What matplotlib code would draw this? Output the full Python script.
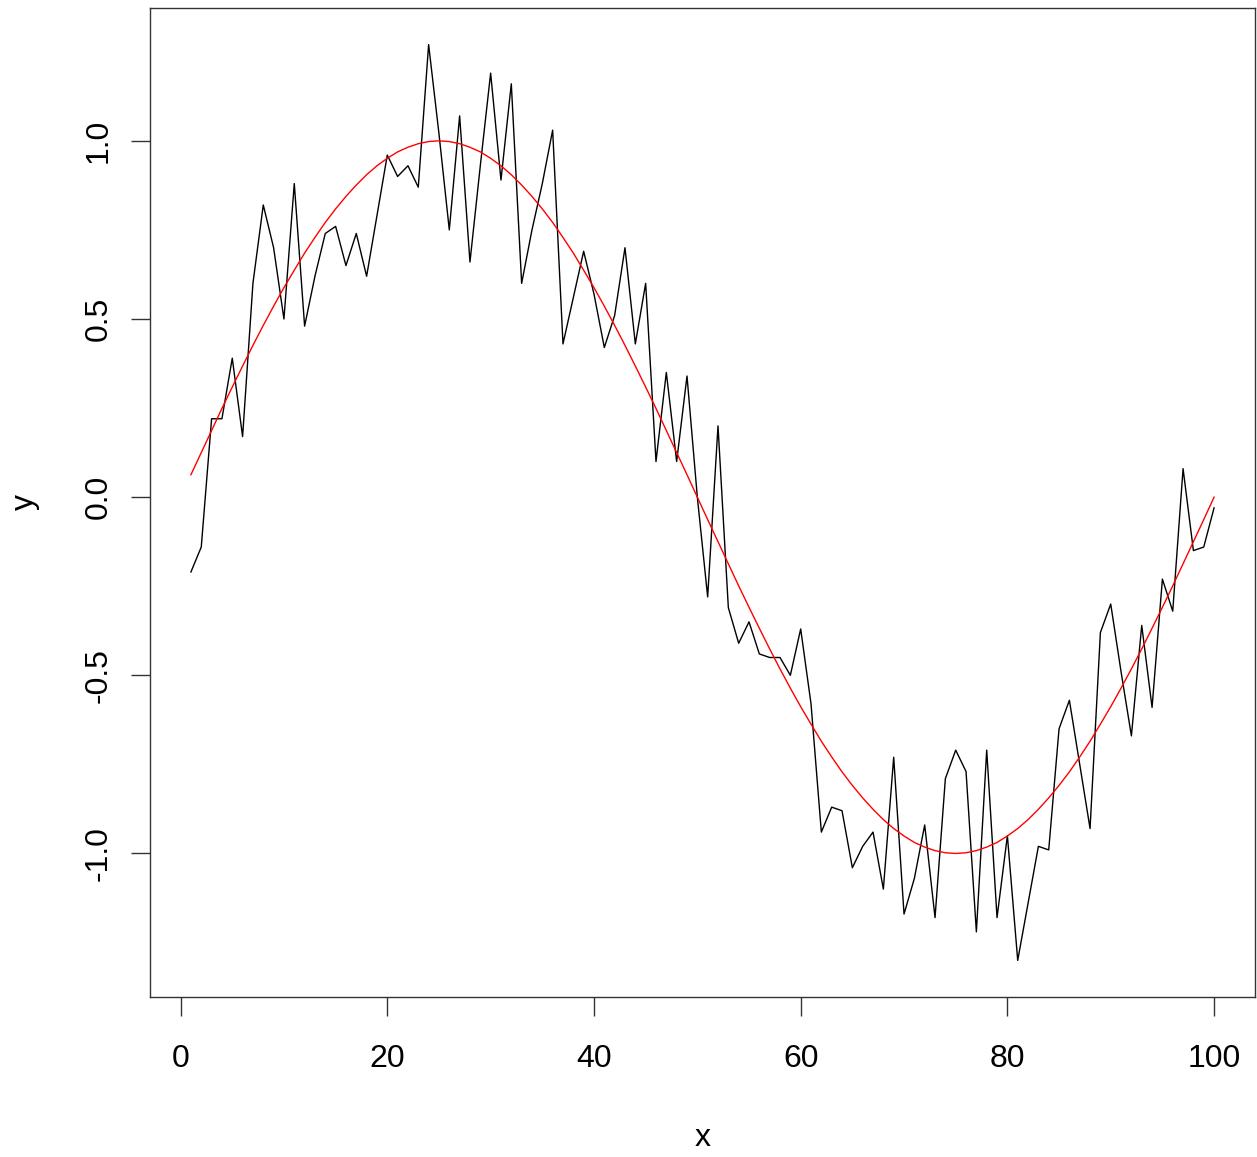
import numpy as np
import matplotlib
matplotlib.use("Agg")
import matplotlib.pyplot as plt

plt.rcParams['font.family'] = ['Liberation Sans', 'DejaVu Sans']

# x positions 1..100
x = list(range(1, 101))

y_obs = [
    -0.21, -0.14, 0.22, 0.22, 0.39, 0.17, 0.60, 0.82, 0.70, 0.50,
    0.88, 0.48, 0.62, 0.74, 0.76, 0.65, 0.74, 0.62, 0.79, 0.96,
    0.90, 0.93, 0.87, 1.27, 1.02, 0.75, 1.07, 0.66, 0.93, 1.19,
    0.89, 1.16, 0.60, 0.75, 0.88, 1.03, 0.43, 0.56, 0.69, 0.57,
    0.42, 0.51, 0.70, 0.43, 0.60, 0.10, 0.35, 0.10, 0.34, 0.00,
    -0.28, 0.20, -0.31, -0.41, -0.35, -0.44, -0.45, -0.45, -0.50, -0.37,
    -0.58, -0.94, -0.87, -0.88, -1.04, -0.98, -0.94, -1.10, -0.73, -1.17,
    -1.07, -0.92, -1.18, -0.79, -0.71, -0.77, -1.22, -0.71, -1.18, -0.95,
    -1.30, -1.14, -0.98, -0.99, -0.65, -0.57, -0.75, -0.93, -0.38, -0.30,
    -0.49, -0.67, -0.36, -0.59, -0.23, -0.32, 0.08, -0.15, -0.14, -0.03,
]

# smooth curve (red line)
y_fit = [
    0.063, 0.125, 0.187, 0.249, 0.309, 0.368, 0.426, 0.482, 0.536, 0.588,
    0.637, 0.685, 0.729, 0.771, 0.809, 0.844, 0.876, 0.905, 0.930, 0.951,
    0.969, 0.982, 0.992, 0.998, 1.000, 0.998, 0.992, 0.982, 0.969, 0.951,
    0.930, 0.905, 0.876, 0.844, 0.809, 0.771, 0.729, 0.685, 0.637, 0.588,
    0.536, 0.482, 0.426, 0.368, 0.309, 0.249, 0.187, 0.125, 0.063, 0.000,
    -0.063, -0.125, -0.187, -0.249, -0.309, -0.368, -0.426, -0.482, -0.536, -0.588,
    -0.637, -0.685, -0.729, -0.771, -0.809, -0.844, -0.876, -0.905, -0.930, -0.951,
    -0.969, -0.982, -0.992, -0.998, -1.000, -0.998, -0.992, -0.982, -0.969, -0.951,
    -0.930, -0.905, -0.876, -0.844, -0.809, -0.771, -0.729, -0.685, -0.637, -0.588,
    -0.536, -0.482, -0.426, -0.368, -0.309, -0.249, -0.187, -0.125, -0.063, 0.000,
]

xticks = [0, 20, 40, 60, 80, 100]
yticks = [-1.0, -0.5, 0.0, 0.5, 1.0]
ytick_labels = ["-1.0", "-0.5", "0.0", "0.5", "1.0"]

fig = plt.figure(figsize=(12.57, 11.57), dpi=100)
ax = fig.add_axes([150 / 1257, 1 - 997 / 1157, 1105 / 1257, 989 / 1157])

ax.plot(x, y_obs, color='black', lw=1.0)
ax.plot(x, y_fit, color='red', lw=1.0)

# R-style 4% padding
xr = max(x) - min(x)
ax.set_xlim(min(x) - 0.04 * xr, max(x) + 0.04 * xr)
yr = max(y_obs) - min(y_obs)
ax.set_ylim(min(y_obs) - 0.04 * yr, max(y_obs) + 0.04 * yr)

ax.set_xticks(xticks)
ax.set_xticklabels([str(t) for t in xticks])
ax.set_yticks(yticks)
ax.set_yticklabels(ytick_labels, rotation=90, va='center')

ax.tick_params(axis='both', direction='out', length=14, width=1.0,
               color='#333333', labelsize=23)
ax.tick_params(axis='x', pad=20)
ax.tick_params(axis='y', pad=12)

for s in ax.spines.values():
    s.set_color('#333333')
    s.set_linewidth(1.0)

ax.set_xlabel('x', fontsize=23)
ax.xaxis.set_label_coords(0.5, (997 - 1138) / 989)
ax.xaxis.label.set_va('center')
ax.set_ylabel('y', fontsize=23)
ax.yaxis.set_label_coords((25 - 150) / 1105, 0.5)
ax.yaxis.label.set_va('center')

fig.savefig('out.png', dpi=100)
